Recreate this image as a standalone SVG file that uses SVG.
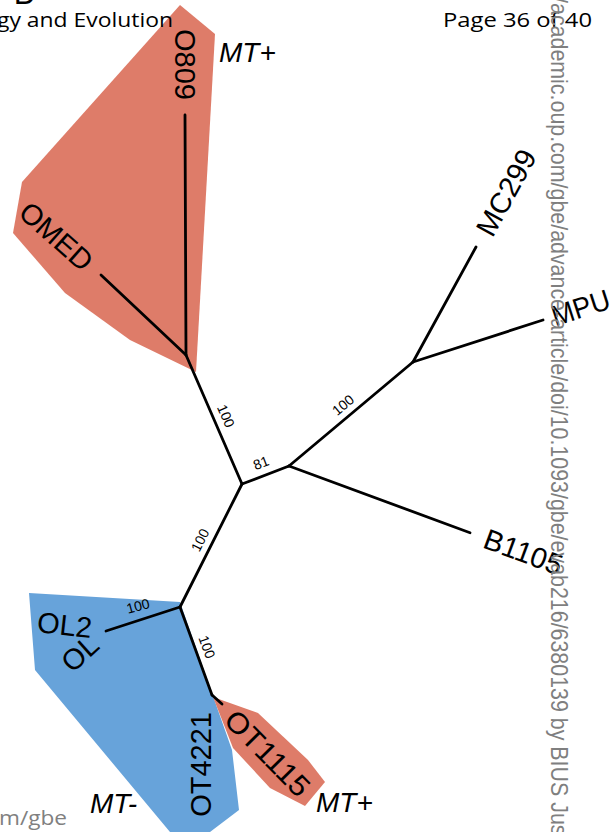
<svg xmlns="http://www.w3.org/2000/svg" width="613" height="832" viewBox="0 0 613 832">
<style>
.hdr{font-family:"Open Sans","Liberation Sans",sans-serif;fill:#000}
.tip{font-family:"Liberation Sans",Arial,sans-serif;font-size:29px;fill:#000}
.mt{font-family:"Liberation Sans",Arial,sans-serif;font-size:28px;font-style:italic;fill:#000}
.bs{font-family:"Liberation Sans",Arial,sans-serif;font-size:14px;fill:#000;text-anchor:middle}
.wm{font-family:"Liberation Sans",Arial,sans-serif;font-size:21.4px;fill:#7f7f7f}
.red{fill:#DE7C69}
.blue{fill:#67A3DA}
</style>
<rect width="613" height="832" fill="#fff"/>

<g id="hulls">
  <polygon class="red" points="180,5 215,34 196,372 130,340 65,293 13,233 22,182"/>
  <polygon class="blue" points="29,593 180,602 213,696 232,750 239,810 210,832 170,832 35,670"/>
  <polygon class="red" points="213,697 258,713 308,760 325,782 305,806 270,788 233,748"/>
</g>

<g id="page-text">
  <text class="hdr" x="13" y="4" font-size="34">B</text>
  <text class="hdr" x="-3" y="27" font-size="20.5" textLength="176" lengthAdjust="spacingAndGlyphs">gy and Evolution</text>
  <text class="hdr" x="443" y="27" font-size="20.5" textLength="149" lengthAdjust="spacingAndGlyphs">Page 36 of 40</text>
  <text class="hdr" x="-1" y="825" font-size="20.5" style="fill:#808080" textLength="68" lengthAdjust="spacingAndGlyphs">m/gbe</text>
</g>

<g id="connectors" stroke="#000" stroke-width="2.8" fill="none" stroke-linecap="round">
  <line x1="242" y1="484" x2="289" y2="466"/>
  <line x1="289" y1="466" x2="413" y2="362"/>
  <line x1="413" y1="362" x2="476" y2="247"/>
  <line x1="413" y1="362" x2="543" y2="320"/>
  <line x1="289" y1="466" x2="470" y2="532.7"/>
  <line x1="242" y1="484" x2="186" y2="355"/>
  <line x1="186" y1="355" x2="185" y2="115"/>
  <line x1="186" y1="355" x2="101" y2="275"/>
  <line x1="242" y1="484" x2="180" y2="607"/>
  <line x1="180" y1="607" x2="106" y2="631"/>
  <line x1="180" y1="607" x2="212" y2="695"/>
  <line x1="212" y1="695" x2="222" y2="704"/>
</g>

<g id="supports">
  <text class="bs" transform="translate(226,416) rotate(66.5)" dy="0.35em">100</text>
  <text class="bs" transform="translate(343,405) rotate(-40)" dy="0.35em">100</text>
  <text class="bs" transform="translate(261,463) rotate(-21)" dy="0.35em">81</text>
  <text class="bs" transform="translate(200,540) rotate(-63.4)" dy="0.35em">100</text>
  <text class="bs" transform="translate(138,606) rotate(-15)" dy="0.35em">100</text>
  <text class="bs" transform="translate(207,647) rotate(69.8)" dy="0.35em">100</text>
</g>

<g id="node-O809"><text class="tip" transform="translate(185,100) rotate(90)" dy="0.36em" text-anchor="end">O809</text></g>
<g id="node-OMED"><text class="tip" transform="translate(89,265) rotate(41.6)" dy="0.36em" text-anchor="end">OMED</text></g>
<g id="node-MC299"><text class="tip" transform="translate(483.4,233.4) rotate(-61.3)" dy="0.36em">MC299</text></g>
<g id="node-MPU"><text class="tip" transform="translate(552,316.5) rotate(-17.9)" dy="0.36em" textLength="60" lengthAdjust="spacingAndGlyphs">MPU</text></g>
<g id="node-B1105"><text class="tip" transform="translate(485,537.5) rotate(20.2)" dy="0.36em">B1105</text></g>
<g id="node-OL2"><text class="tip" transform="translate(92,627.5) rotate(6.2)" dy="0.36em" text-anchor="end">OL2</text></g>
<g id="node-OL"><text class="tip" transform="translate(94,640) rotate(-42)" dy="0.36em" text-anchor="end">OL</text></g>
<g id="node-OT4221"><text class="tip" transform="translate(201,712) rotate(-90)" dy="0.36em" text-anchor="end">OT4221</text></g>
<g id="node-OT1115"><text class="tip" transform="translate(230,714.5) rotate(45.5)" dy="0.36em" textLength="108" lengthAdjust="spacingAndGlyphs">OT1115</text></g>

<g id="mating-types">
  <text class="mt" x="219" y="62">MT+</text>
  <text class="mt" x="90" y="813">MT-</text>
  <text class="mt" x="316" y="812">MT+</text>
</g>

<g id="watermark">
  <text class="wm" transform="translate(551,-8.9) rotate(90) scale(1,1.08)">//academic.oup.com/gbe/advance-article/doi/10.1093/gbe/evab216/6380139 by BIUS Jus</text>
</g>
</svg>
